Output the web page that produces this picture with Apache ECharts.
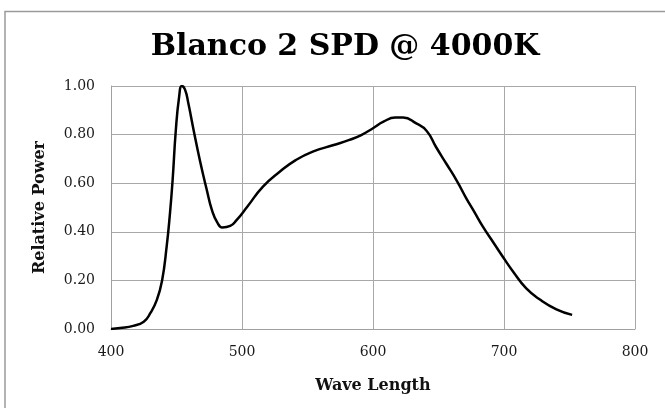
<!DOCTYPE html>
<html><head><meta charset="utf-8">
<script src="https://cdn.jsdelivr.net/npm/echarts@6/dist/echarts.min.js"></script>
<style>html,body{margin:0;padding:0;background:#fff}#c{width:665px;height:408px}</style>
</head><body><div id="c"></div>
<script>
const titleText = "Blanco 2 SPD @ 4000K";
const xName = "Wave Length";
const yName = "Relative Power";
const wavelengths = [400,407,417,425,430,435,439,442.5,445,447,449.5,452,454,456.5,459,463,468,473,477,481,485,491,496,504,516,529,541,554,570,582,591,600,608,617,623,633,641,648,656,664,671,677,684,692,700,707,717,728,740,752];
const power = [0,0.004,0.013,0.03,0.065,0.12,0.2,0.34,0.475,0.61,0.82,0.955,1.0,0.985,0.93,0.82,0.69,0.575,0.49,0.44,0.418,0.424,0.449,0.503,0.586,0.648,0.695,0.73,0.757,0.778,0.798,0.826,0.853,0.87,0.87,0.846,0.815,0.75,0.68,0.61,0.54,0.485,0.42,0.355,0.29,0.236,0.167,0.119,0.081,0.058];

const chart = echarts.init(document.getElementById('c'), null, {renderer:'canvas'});
const serif = "'DejaVu Serif','Liberation Serif',serif";
chart.setOption({
  animation:false,
  backgroundColor:'#fff',
  graphic:[{type:'rect',shape:{x:5,y:11.5,width:700,height:500},style:{fill:'none',stroke:'#9a9a9a',lineWidth:1.5},silent:true}],
  title:{text:titleText,left:340,textAlign:'center',top:27,textStyle:{fontFamily:serif,fontWeight:'bold',fontSize:30,color:'#000'}},
  grid:{left:111,right:30,top:86,bottom:79},
  xAxis:{type:'value',min:400,max:800,interval:100,
    name:xName,nameLocation:'middle',nameGap:49,
    nameTextStyle:{fontFamily:serif,fontWeight:'bold',fontSize:16,color:'#111'},
    axisLine:{lineStyle:{color:'#a0a0a0',width:1}},axisTick:{show:false},
    axisLabel:{fontFamily:serif,fontSize:14,color:'#1a1a1a',margin:16},
    splitLine:{show:true,lineStyle:{color:'#a8a8a8',width:1}}},
  yAxis:{type:'value',min:0,max:1,interval:0.2,
    name:yName,nameLocation:'middle',nameGap:63,
    nameTextStyle:{fontFamily:serif,fontWeight:'bold',fontSize:16,color:'#111'},
    axisLine:{show:true,lineStyle:{color:'#a0a0a0',width:1}},axisTick:{show:false},
    axisLabel:{fontFamily:serif,fontSize:14,color:'#1a1a1a',margin:16,formatter:v=>v.toFixed(2)},
    splitLine:{show:true,lineStyle:{color:'#a8a8a8',width:1}}},
  series:[{type:'line',data:wavelengths.map((w,i)=>[w,power[i]]),smooth:0.5,showSymbol:false,
    lineStyle:{color:'#000',width:2.5}}]
});
</script></body></html>
